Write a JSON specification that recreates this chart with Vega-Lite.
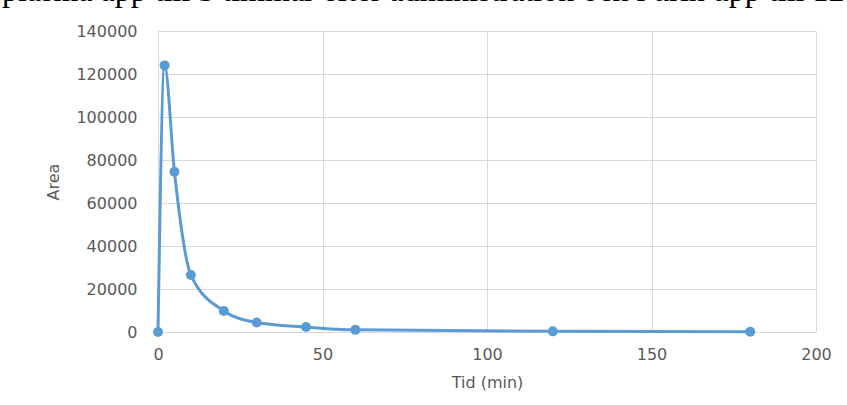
{
  "$schema": "https://vega.github.io/schema/vega-lite/v6.json",
  "width": 658,
  "height": 301,
  "autosize": {"type": "none"},
  "padding": {"left": 158, "top": 31, "right": 31, "bottom": 73},
  "background": "white",
  "title": {
    "text": "plasma app till 3 timmar efter administration och i urin upp till 12",
    "anchor": "start",
    "font": "Liberation Serif",
    "fontSize": 32,
    "fontWeight": "normal",
    "color": "black",
    "baseline": "alphabetic",
    "dx": -44,
    "dy": 10,
    "offset": 0
  },
  "data": {
    "values": [
      {"t": 0, "area": 0},
      {"t": 2, "area": 124000},
      {"t": 5, "area": 74500},
      {"t": 10, "area": 26500},
      {"t": 20, "area": 9800},
      {"t": 30, "area": 4400},
      {"t": 45, "area": 2300},
      {"t": 60, "area": 1000},
      {"t": 120, "area": 300},
      {"t": 180, "area": 150}
    ]
  },
  "config": {
    "view": {"stroke": null},
    "axis": {
      "labelFont": "DejaVu Sans",
      "labelFontSize": 16,
      "labelColor": "#595959",
      "labelFlush": false,
      "titleFont": "DejaVu Sans",
      "titleFontSize": 16,
      "titleColor": "#595959",
      "titleFontWeight": "normal",
      "gridColor": "#d9d9d9",
      "gridWidth": 1,
      "ticks": false
    }
  },
  "encoding": {
    "x": {
      "field": "t",
      "type": "quantitative",
      "scale": {"domain": [0, 200], "nice": false, "zero": false},
      "axis": {
        "values": [0, 50, 100, 150, 200],
        "title": "Tid (min)",
        "domainColor": "#d9d9d9",
        "labelPadding": 14,
        "titlePadding": 12
      }
    },
    "y": {
      "field": "area",
      "type": "quantitative",
      "scale": {"domain": [0, 140000], "nice": false},
      "axis": {
        "values": [0, 20000, 40000, 60000, 80000, 100000, 120000, 140000],
        "format": "d",
        "title": "Area",
        "domain": false,
        "labelPadding": 21,
        "titlePadding": 14
      }
    }
  },
  "layer": [
    {
      "mark": {"type": "line", "color": "#5b9bd5", "strokeWidth": 3, "interpolate": "monotone"}
    },
    {
      "mark": {"type": "point", "filled": true, "color": "#5b9bd5", "size": 100, "opacity": 1}
    }
  ]
}
